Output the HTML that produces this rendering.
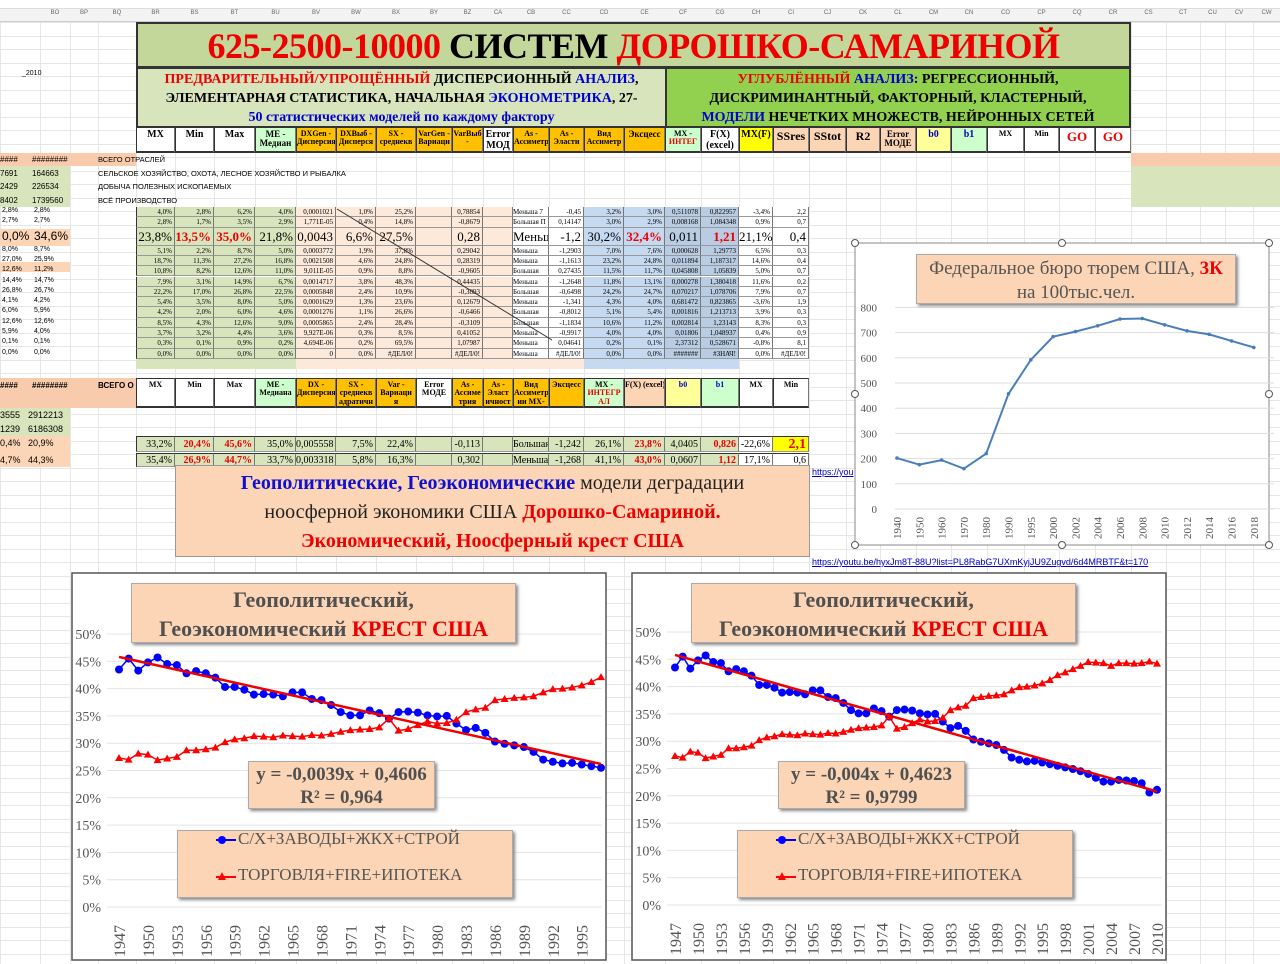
<!DOCTYPE html>
<html><head><meta charset="utf-8">
<style>
*{margin:0;padding:0;box-sizing:border-box}
body{width:1280px;height:964px;overflow:hidden;background:#fff;position:relative;font-family:"Liberation Serif","Noto Serif CJK SC",serif}
.a{position:absolute}
.c{position:absolute;border-right:1px solid #777;border-bottom:1px solid #999;font-size:8px;text-align:center;line-height:1.05;overflow:hidden;white-space:nowrap}
.bx{position:absolute;background:#fbd5b5;border:1px solid #aaa;box-shadow:2px 2px 3px #888;font-weight:bold;text-align:center}
</style></head><body>
<div id="grid"></div>
<div class="a" style="left:0;top:8px;width:1280px;height:14px;background:#f3f3f3;border-bottom:1px solid #ccc;border-top:1px solid #ddd"></div>
<div id="letters"></div>
<div class="a" style="left:22px;top:70px;font-size:7px;font-family:'Liberation Sans',sans-serif">_2010</div>

<div class="a" style="left:136px;top:22px;width:995px;height:46px;background:#c4d79b;border:2px solid #333;text-align:center;font-weight:bold;font-size:36px;line-height:44px;letter-spacing:-0.5px"><span style="color:#e00">625-2500-10000</span> СИСТЕМ <span style="color:#e00">ДОРОШКО-САМАРИНОЙ</span></div>
<div class="a" style="left:136px;top:67px;width:531px;height:61px;background:#d8e4bc;border:2px solid #333;text-align:center;font-weight:bold;font-size:14px;line-height:19px;padding-top:1px"><span style="color:#e00">ПРЕДВАРИТЕЛЬНЫЙ/УПРОЩЁННЫЙ</span> ДИСПЕРСИОННЫЙ <span style="color:#00c">АНАЛИЗ</span>,<br>ЭЛЕМЕНТАРНАЯ СТАТИСТИКА, НАЧАЛЬНАЯ <span style="color:#00c">ЭКОНОМЕТРИКА</span>, 27-<br><span style="color:#00c">50 статистических моделей по каждому фактору</span></div>
<div class="a" style="left:665px;top:67px;width:466px;height:61px;background:#92d050;border:2px solid #333;text-align:center;font-weight:bold;font-size:14px;line-height:19px;padding-top:1px"><span style="color:#e00">УГЛУБЛЁННЫЙ</span> <span style="color:#00c">АНАЛИЗ</span>: РЕГРЕССИОННЫЙ,<br>ДИСКРИМИНАНТНЫЙ, ФАКТОРНЫЙ, КЛАСТЕРНЫЙ,<br><span style="color:#00c">МОДЕЛИ</span> НЕЧЕТКИХ МНОЖЕСТВ, НЕЙРОННЫХ СЕТЕЙ</div>

<div id="hdr"></div>
<div class="a" style="left:0;top:153px;width:136px;height:13px;background:#f8cbad"></div>
<div class="a" style="left:1131px;top:153px;width:149px;height:13px;background:#f8cbad"></div>
<div class="a" style="left:1131px;top:166px;width:149px;height:41px;background:#d8e4bc"></div>
<div class="a" style="left:0;top:166px;width:70px;height:41px;background:#d8e4bc"></div>
<div class="a" style="left:0;top:229px;width:70px;height:17px;background:#fbd5b5"></div>
<div class="a" style="left:0;top:262px;width:70px;height:10px;background:#fbd5b5"></div>
<div class="a" style="left:0;top:378px;width:136px;height:30px;background:#f8cbad"></div>
<div class="a" style="left:0;top:408px;width:70px;height:28px;background:#d8e4bc"></div>
<div class="a" style="left:0;top:436px;width:70px;height:31px;background:#fbd5b5"></div>
<div id="side" style="font-family:'Liberation Sans',sans-serif"></div>
<div id="tbl"></div>

<div class="a" style="left:175px;top:465px;width:635px;height:92px;background:#fbd5b5;border:1px solid #999;text-align:center;font-size:20px;line-height:29px;padding-top:3px;color:#222"><b style="color:#1010d0">Геополитические, Геоэкономические</b> модели деградации<br>ноосферной экономики США <b style="color:#e00">Дорошко-Самариной.</b><br><b style="color:#e00">Экономический, Ноосферный крест США</b></div>
<div class="a" style="left:812px;top:467px;font-size:9px;color:#00c;text-decoration:underline;font-family:'Liberation Sans',sans-serif">https://you</div>
<div class="a" style="left:812px;top:557px;font-size:9px;color:#00c;text-decoration:underline;font-family:'Liberation Sans',sans-serif">https://youtu.be/hyxJm8T-88U?list=PL8RabG7UXmKyjJU9Zugvd/6d4MRBTF&amp;t=170</div>

<svg id="pr" class="a" style="left:850px;top:238px" width="425" height="312"></svg>
<svg id="c1" class="a" style="left:0;top:0" width="1280" height="964"></svg>

<script>
const NS="http://www.w3.org/2000/svg";
function el(p,t,a,txt){const e=document.createElementNS(NS,t);for(const k in a)e.setAttribute(k,a[k]);if(txt!==undefined)e.textContent=txt;p.appendChild(e);return e;}
function div(p,style,html,cls){const d=document.createElement('div');d.className=cls||'a';d.style.cssText=style;if(html)d.innerHTML=html;p.appendChild(d);return d;}
const g=document.getElementById('grid');
for(let y=22;y<964;y+=13.5)div(g,`left:0;top:${y}px;width:1280px;height:1px;background:#e6e6e6`);
const colx=[0,40,70,98,136,175,214,255,296,336,376,416,452,483,513,549,584,624,665,701,739,773,809,846,880,916,951,987,1024,1059,1095,1131,1166,1200,1225,1253,1280];
colx.forEach(x=>div(g,`left:${x}px;top:8px;width:1px;height:956px;background:#e6e6e6`));
const L=document.getElementById('letters');
const lets=["BO","BP","BQ","BR","BS","BT","BU","BV","BW","BX","BY","BZ","CA","CB","CC","CD","CE","CF","CG","CH","CI","CJ","CK","CL","CM","CN","CO","CP","CQ","CR","CS","CT","CU","CV","CW"];
for(let i=1;i<colx.length-1;i++)div(L,`left:${colx[i]}px;top:10px;width:${colx[i+1]-colx[i]}px;text-align:center;font-size:6px;color:#666;font-family:'Liberation Sans',sans-serif`,lets[i-1]||"");
const H=document.getElementById('hdr');
const hx=[136,175,214,255,296,336,376,416,452,483,513,549,584,624,665,701,739,773,809,846,880,916,951,987,1024,1059,1095,1131];
const hd=[["MX","#fff",10],["Min","#fff",10],["Max","#fff",10],["ME -<br>Медиан","#ccffcc",9],["DXGen -<br>Дисперсия","#ffc000",8],["DXВыб -<br>Дисперся","#ffc000",8],["SX -<br>среднекв","#ffc000",8],["VarGen -<br>Вариаци","#ffc000",8],["VarВыб<br>-","#ffc000",8],["Error<br>МОД","#fff",10],["As -<br>Ассиметр","#ffc000",8],["As -<br>Эласти","#ffc000",8],["Вид<br>Ассиметр","#ffc000",8],["Эксцесс","#ffc000",9],["MX -<br><span style='color:#e00'>ИНТЕГ</span>","#ccffcc",8],["F(X)<br>(excel)","#fff",10],["MX(F)","#ffff00",10],["SSres","#fcd5b4",12],["SStot","#fcd5b4",12],["R2","#fcd5b4",12],["Error<br>МОДЕ","#fcd5b4",9],["<span style='color:#00c'>b0</span>","#ffff99",10],["<span style='color:#00c'>b1</span>","#ccffcc",10],["MX","#fff",8],["Min","#fff",8],["<span style='color:#e00'>GO</span>","#fff",13],["<span style='color:#e00'>GO</span>","#fff",13]];
for(let i=0;i<hd.length;i++)div(H,`left:${hx[i]}px;top:128px;width:${hx[i+1]-hx[i]}px;height:25px;background:${hd[i][1]};font-size:${hd[i][2]}px;font-weight:bold;padding-top:2px;border-left:1px solid #333;border-bottom:2px solid #333`,hd[i][0],'c');
const S=document.getElementById('side');
[["####","########","ВСЕГО ОТРАСЛЕЙ",153],["7691","164663","СЕЛЬСКОЕ ХОЗЯЙСТВО, ОХОТА, ЛЕСНОЕ ХОЗЯЙСТВО И РЫБАЛКА",167],["2429","226534","ДОБЫЧА ПОЛЕЗНЫХ ИСКОПАЕМЫХ",180],["8402","1739560","ВСЁ ПРОИЗВОДСТВО",194]].forEach(r=>{
div(S,`left:0;top:${r[3]+2}px;font-size:8px`,r[0]);div(S,`left:32px;top:${r[3]+2}px;font-size:8px`,r[1]);div(S,`left:98px;top:${r[3]+2}px;font-size:7.5px`,r[2]);});
const sv=[["2,8%","2,8%"],["2,7%","2,7%"],["0,0%","34,6%",1],["8,0%","8,7%"],["27,0%","25,9%"],["12,6%","11,2%"],["14,4%","14,7%"],["26,8%","26,7%"],["4,1%","4,2%"],["6,0%","5,9%"],["12,6%","12,6%"],["5,9%","4,0%"],["0,1%","0,1%"],["0,0%","0,0%"]];
const T=document.getElementById('tbl');
const rows=[
["4,0%","2,8%","6,2%","4,0%","0,0001021","1,0%","25,2%","","0,78854","","Меньша 7","-0,45","3,2%","3,0%","0,511078","0,822957","-3,4%","2,2"],
["2,8%","1,7%","3,5%","2,9%","1,771E-05","0,4%","14,8%","","-0,8679","","Большая П","0,14147","3,0%","2,9%","0,008168","1,084348","0,9%","0,7"],
["23,8%","13,5%","35,0%","21,8%","0,0043","6,6%","27,5%","","0,28","","Меньш","-1,2","30,2%","32,4%","0,011","1,21","21,1%","0,4"],
["5,1%","2,2%","8,7%","5,0%","0,0003772","1,9%","37,8%","","0,29042","","Меньша","-1,2903","7,0%","7,6%","0,000628","1,29773","6,5%","0,3"],
["18,7%","11,3%","27,2%","16,8%","0,0021508","4,6%","24,8%","","0,28319","","Меньша","-1,1613","23,2%","24,8%","0,011894","1,187317","14,6%","0,4"],
["10,8%","8,2%","12,6%","11,0%","9,011E-05","0,9%","8,8%","","-0,9605","","Большая","0,27435","11,5%","11,7%","0,045808","1,05839","5,0%","0,7"],
["7,9%","3,1%","14,9%","6,7%","0,0014717","3,8%","48,3%","","0,44435","","Меньша","-1,2648","11,8%","13,1%","0,000278","1,380418","11,6%","0,2"],
["22,2%","17,0%","26,8%","22,5%","0,0005848","2,4%","10,9%","","-0,3893","","Большая","-0,6498","24,2%","24,7%","0,070217","1,078706","7,9%","0,7"],
["5,4%","3,5%","8,0%","5,0%","0,0001629","1,3%","23,6%","","0,12679","","Меньша","-1,341","4,3%","4,0%","0,681472","0,823865","-3,6%","1,9"],
["4,2%","2,0%","6,0%","4,6%","0,0001276","1,1%","26,6%","","-0,6466","","Большая","-0,8012","5,1%","5,4%","0,001816","1,213713","3,9%","0,3"],
["8,5%","4,3%","12,6%","9,0%","0,0005865","2,4%","28,4%","","-0,3109","","Большая","-1,1834","10,6%","11,2%","0,002814","1,23143","8,3%","0,3"],
["3,7%","3,2%","4,4%","3,6%","9,927E-06","0,3%","8,5%","","0,41052","","Меньша","-0,9917","4,0%","4,0%","0,01806","1,048937","0,4%","0,9"],
["0,3%","0,1%","0,9%","0,2%","4,694E-06","0,2%","69,5%","","1,07987","","Меньша","0,04641","0,2%","0,1%","2,37312","0,528671","-0,8%","8,1"],
["0,0%","0,0%","0,0%","0,0%","0","0,0%","#ДЕЛ/0!","","#ДЕЛ/0!","","Меньша","#ДЕЛ/0!","0,0%","0,0%","#######","#ЗНАЧ!","0,0%","#ДЕЛ/0!"]];
const tx=[136,175,214,255,296,336,376,416,452,483,513,549,584,624,665,701,739,773,809];
function bgc(i){if(i<4)return"#d8e4bc";if(i<10)return"#fde9d9";if(i==10)return"#fff";if(i<14)return i==11?"#fff":"#c5d9f1";if(i<16)return"#b8cce4";return"#fff";}
let y=207;
rows.forEach((r,ri)=>{const big=ri==2;const h=big?18:10.3;
const s=sv[ri];div(S,`left:2px;top:${y+(big?1:0)}px;font-size:${big?12:7}px`,s[0]);div(S,`left:34px;top:${y+(big?1:0)}px;font-size:${big?12:7}px`,s[1]);
for(let i=0;i<r.length;i++){let col="#000";if(big&&[1,2,13,15].includes(i))col="#e00";
let fw=big&&[1,2,13,15].includes(i)?"bold":"normal";
div(T,`left:${tx[i]}px;top:${y}px;width:${tx[i+1]-tx[i]}px;height:${h}px;background:${bgc(i)};font-size:${big?13:7}px;line-height:${h}px;color:${col};font-weight:${fw};border-left:${i==0?'1px solid #333':'0'};text-align:${i==10?'left':'right'};padding-right:2px`,r[i],'c');}
y+=h;});
div(T,`left:136px;top:${y}px;width:160px;height:10px;background:#d8e4bc`);
div(T,`left:296px;top:${y}px;width:288px;height:10px;background:#fde9d9`);
div(T,`left:584px;top:${y}px;width:155px;height:10px;background:#c5d9f1`);
const sv2=el(document.getElementById('c1'),'g',{});
el(sv2,'line',{x1:337,y1:209,x2:552,y2:340,stroke:'#333','stroke-width':1});
const h2=[["MX","#fff"],["Min","#fff"],["Max","#fff"],["ME -<br>Медиана","#ccffcc"],["DX -<br>Дисперсия","#ffc000"],["SX -<br>среднекв<br>адратичн","#ffc000"],["Var -<br>Вариаци<br>я","#ffc000"],["Error<br>МОДЕ","#fff"],["As -<br>Ассиме<br>трия","#ffc000"],["As -<br>Эласт<br>ичност","#ffc000"],["Вид<br>Ассиметр<br>ии MX-","#ffc000"],["Эксцесс","#ffc000"],["MX -<br><span style='color:#e00'>ИНТЕГР<br>АЛ</span>","#ccffcc"],["F(X) (excel)","#fcd5b4"],["<span style='color:#00c'>b0</span>","#ffff99"],["<span style='color:#00c'>b1</span>","#ccffcc"],["MX","#fff"],["Min","#fff"]];
const h2xx=[136,175,214,255,296,336,376,416,452,483,513,549,584,624,665,701,739,773,809];
for(let i=0;i<h2.length;i++)div(H,`left:${h2xx[i]}px;top:378px;width:${h2xx[i+1]-h2xx[i]}px;height:30px;background:${h2[i][1]};font-size:8px;font-weight:bold;padding-top:2px;border-left:1px solid #333;border-bottom:2px solid #333;border-top:1px solid #333`,h2[i][0],'c');
div(S,`left:0;top:381px;font-size:8px;font-weight:bold`,"####");div(S,`left:32px;top:381px;font-size:8px;font-weight:bold`,"########");
div(S,`left:98px;top:381px;font-size:8px;font-weight:bold`,"ВСЕГО О");
[["3555","2912213",410],["1239","6186308",424],["0,4%","20,9%",438],["4,7%","44,3%",455]].forEach(r=>{div(S,`left:0;top:${r[2]}px;font-size:9px`,r[0]);div(S,`left:28px;top:${r[2]}px;font-size:9px`,r[1]);});
const r2=[["33,2%","20,4%","45,6%","35,0%","0,005558","7,5%","22,4%","","-0,113","","Большая","-1,242","26,1%","23,8%","4,0405","0,826","-22,6%","2,1"],
["35,4%","26,9%","44,7%","33,7%","0,003318","5,8%","16,3%","","0,302","","Меньша","-1,268","41,1%","43,0%","0,0607","1,12","17,1%","0,6"]];
[[436,16],[453,14]].forEach((p,ri)=>{const r=r2[ri];for(let i=0;i<r.length;i++){let red=[1,2,13,15].includes(i);let bg=i==17&&ri==0?"#ffff00":(i<16?"#d8e4bc":"#fff");
div(T,`left:${h2xx[i]}px;top:${p[0]}px;width:${h2xx[i+1]-h2xx[i]}px;height:${p[1]}px;background:${bg};font-size:${i==17&&ri==0?14:10}px;line-height:${p[1]}px;color:${red||(i==17&&ri==0)?'#e00':'#000'};font-weight:${red||(i==17&&ri==0)?'bold':'normal'};border-left:${i==0?'1px solid #333':'0'};border-top:1px solid #333;text-align:${i==10?'left':'right'};padding-right:2px`,r[i],'c');}});

const P=document.getElementById('pr');
el(P,'rect',{x:5,y:5,width:414,height:302,fill:'#fff',stroke:'#888'});
[[5,5],[212,5],[419,5],[5,156],[419,156],[5,307],[212,307],[419,307]].forEach(p=>el(P,'circle',{cx:p[0],cy:p[1],r:3.5,fill:'#fff',stroke:'#555'}));
const py0=271,pstep=25.2;
for(let i=0;i<=8;i++){const yy=py0-i*pstep;el(P,'line',{x1:45,x2:424,y1:yy,y2:yy,stroke:'#ddd'});el(P,'text',{x:27,y:yy+4,'font-size':11,'text-anchor':'end',fill:'#555'},String(i*100));}
const pyrs=[1940,1950,1960,1970,1980,1990,1995,2000,2002,2004,2006,2008,2010,2012,2014,2016,2018];
const pv=[202,176,194,160,220,457,592,684,704,727,754,756,731,707,693,667,641];
let pts=pv.map((v,i)=>[47+i*22.3,py0-v*pstep/100]);
el(P,'polyline',{points:pts.map(p=>p.join(',')).join(' '),fill:'none',stroke:'#4a7ebb','stroke-width':2});
pts.forEach(p=>el(P,'circle',{cx:p[0],cy:p[1],r:1.8,fill:'#4a7ebb'}));
pyrs.forEach((yr,i)=>el(P,'text',{x:0,y:0,'font-size':11,fill:'#555',transform:`translate(${51+i*22.3},${301}) rotate(-90)`},String(yr)));
div(document.body,`left:916px;top:254px;width:320px;height:50px;font-size:19px;line-height:24px;color:#555;font-weight:normal;padding-top:2px`,`Федеральное бюро тюрем США, <b style="color:#e00">3К</b><br>на 100тыс.чел.`,'bx');

const C=document.getElementById('c1');
const blue=[43.5,45.5,43.3,44.8,45.7,44.5,44.3,42.8,43.2,42.8,42,40.3,40.3,39.8,38.9,39,38.9,38.6,39.3,39.3,38.1,37.9,37,35.7,35.1,35.1,36,35.5,34.5,35.7,35.8,35.6,35.1,34.9,35,33.6,32.4,32.8,31.9,30.3,29.9,29.6,29.3,28.4,27,26.6,26.3,26.4,26.1,25.8,25.5];
const red=[27.3,27,28.1,27.9,26.9,27.2,27.5,28.7,28.7,28.9,29.2,30.2,30.7,30.9,31.3,31.2,31.1,31.4,31.3,31.2,31.5,31.4,31.7,32.1,32.4,32.5,32.6,32.9,34.5,32.3,32.6,33.3,34,33.6,33.7,34.3,35.7,36.2,36.5,37.9,38.1,38.3,38.4,38.6,39.3,39.9,40,40.2,40.6,41.2,42.1];
const blue2=blue.concat([25.2,24.9,24.5,24,23.3,22.6,22.6,22.9,22.8,22.7,22.3,20.6,21.1]);
const red2=red.concat([42.6,43.2,43.8,44.5,44.4,44.3,43.8,44.3,44.3,44.2,44.3,44.6,44.2]);
const mkB='<svg width="24" height="10" style="vertical-align:middle"><line x1="2" y1="5" x2="22" y2="5" stroke="#00f" stroke-width="2"/><circle cx="8" cy="5" r="4" fill="#00f"/></svg>';
const mkR='<svg width="24" height="10" style="vertical-align:middle"><line x1="2" y1="6" x2="22" y2="6" stroke="#f00" stroke-width="2"/><polygon points="8,1 4,9 12,9" fill="#f00"/></svg>';
function cross(ox,w,x0,x1,y50,y0,B,R,t0,t1,eq,r2t,eqx){
 el(C,'rect',{x:ox,y:573,width:w,height:387,fill:'#fff',stroke:'#555','stroke-width':1.5});
 const sc=(y0-y50)/50;
 for(let i=0;i<=10;i++){const yy=y0-i*5*sc;el(C,'line',{x1:ox+35,x2:ox+w-4,y1:yy,y2:yy,stroke:'#e4e4e4'});el(C,'text',{x:ox+29,y:yy+5,'font-size':14,'text-anchor':'end',fill:'#555'},i*5+'%');}
 const n=B.length,dx=(x1-x0)/(n-1);const X=i=>x0+i*dx,Y=v=>y0-v*sc;
 el(C,'polyline',{points:B.map((v,i)=>X(i)+','+Y(v)).join(' '),fill:'none',stroke:'#0000ff','stroke-width':1.5});
 el(C,'polyline',{points:R.map((v,i)=>X(i)+','+Y(v)).join(' '),fill:'none',stroke:'#ff0000','stroke-width':1.5});
 B.forEach((v,i)=>el(C,'circle',{cx:X(i),cy:Y(v),r:4,fill:'#0000ff'}));
 R.forEach((v,i)=>{const x=X(i),y=Y(v);el(C,'polygon',{points:`${x},${y-4} ${x-4},${y+3} ${x+4},${y+3}`,fill:'#ff0000'});});
 el(C,'line',{x1:X(0),y1:Y(t0),x2:X(n-1),y2:Y(t1),stroke:'#e00','stroke-width':2.5});
 for(let yr=1947,i=0;i<n;yr+=3,i+=3)el(C,'text',{x:0,y:0,'font-size':16,fill:'#555',transform:`translate(${X(i)+6},${y0+50}) rotate(-90)`},String(yr));
 div(document.body,`left:${ox+59}px;top:583px;width:385px;height:60px;font-size:22px;line-height:29px;color:#505050;padding-top:1px`,`Геополитический,<br>Геоэкономический <span style="color:#e00">КРЕСТ США</span>`,'bx');
 div(document.body,`left:${eqx}px;top:761px;width:${eq.length>19?187:175}px;height:48px;font-size:19px;line-height:23px;color:#505050;padding-top:1px`,`${eq}<br>${r2t}`,'bx');
 const lg=div(document.body,`left:${ox+105}px;top:830px;width:336px;height:68px;font-weight:normal;text-align:left;color:#555;font-size:17px`,'','bx');
 div(lg,`left:36px;top:-2px;white-space:nowrap`,mkB+'С/Х+ЗАВОДЫ+ЖКХ+СТРОЙ');
 div(lg,`left:36px;top:34px;white-space:nowrap`,mkR+'ТОРГОВЛЯ+FIRE+ИПОТЕКА');
}
cross(72,534,119,601,634,907,blue,red,45.8,26.2,'y = -0,0039x + 0,4606','R² = 0,964',248);
cross(632,534,675,1157,632,905,blue2,red2,45.8,20.8,'y = -0,004x + 0,4623','R² = 0,9799',778);
</script>
</body></html>
